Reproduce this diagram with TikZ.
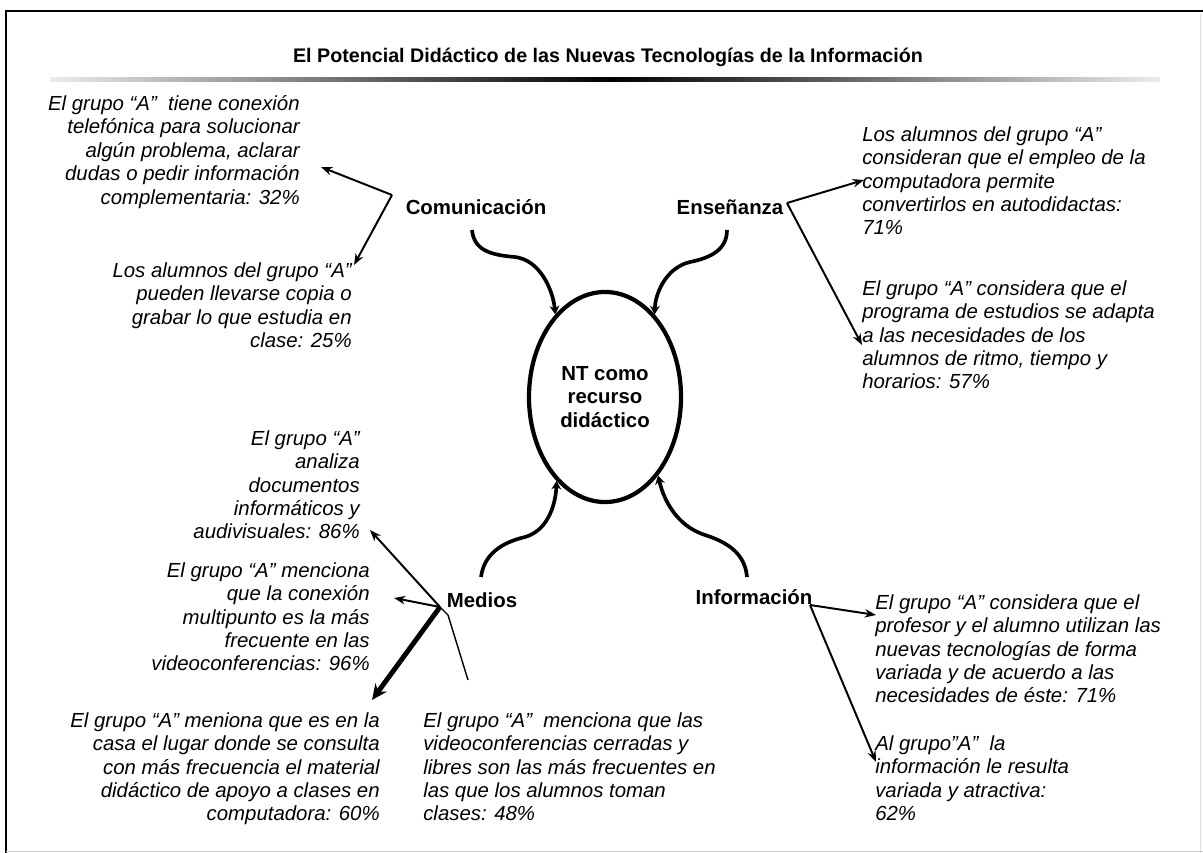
\documentclass[tikz,border=0pt]{standalone}
\usepackage{fontspec}
\setmainfont{Liberation Sans}
\usetikzlibrary{arrows.meta,shapes.geometric}

\tikzset{
  note/.style={font=\fontsize{14.5}{16.7}\selectfont\itshape, inner sep=0pt},
  noter/.style={note, align=right, anchor=north east},
  notel/.style={note, align=left, anchor=north west},
  topic/.style={font=\fontsize{14.5}{17}\selectfont\bfseries, inner sep=0pt},
  hub/.style={ellipse, draw, line width=3pt, minimum width=3.8cm, minimum height=5.25cm,
    inner sep=0pt, align=center, font=\fontsize{14.5}{17}\selectfont\bfseries},
  stem/.style={line width=2.6pt, -{Stealth[length=6pt,width=7pt]}},
  branch/.style={line width=1.4pt, -{Stealth[length=8pt,width=6pt]}},
  heavy/.style={line width=3.5pt, -{Stealth[length=11pt,width=10pt]}},
}

\begin{document}
\begin{tikzpicture}[x=0.025cm,y=-0.025cm]
\useasboundingbox (0,0) rectangle (1203,853);

% frame and title
\draw[line width=1.5pt] (6,853) -- (6,11) -- (1203,11);
\draw[gray!25] (1200,14) -- (1200,853);
\draw[gray!40] (6,851) -- (1203,851);
\node[font=\fontsize{14}{17}\selectfont\bfseries] (title) at (608,57)
  {El Potencial Didáctico de las Nuevas Tecnologías de la Información};
\shade[left color=gray!15, right color=black] (50,78) rectangle (610,82);
\shade[left color=black, right color=gray!15] (610,78) rectangle (1160,82);

% centre
\node[hub] (nt) at (605,397) {NT como\\recurso\\didáctico};

% Comunicacion
\node[topic] (comu) at (476,207) {Comunicación};
\coordinate (comu-root) at (472,230);
\draw[stem] (comu-root) .. controls (474,250) and (490,255) .. (515,257)
  .. controls (540,260) and (553,290) .. (nt.121);
\node[noter] (comu-a) at (300,95) {El grupo “A”\ \ tiene conexión\\telefónica para solucionar\\algún problema, aclarar\\dudas o pedir información\\complementaria: 32\%};
\node[noter] (comu-b) at (352,262) {Los alumnos del grupo “A”\\pueden llevarse copia o\\grabar lo que estudia en\\clase: 25\%};
\coordinate (comu-fork) at (392,195);
\coordinate (comu-tip1) at (321,167);
\coordinate (comu-tip2) at (354,265);
\draw[branch] (comu-fork) -- (comu-tip1);
\draw[branch] (comu-fork) -- (comu-tip2);

% Ensenanza
\node[topic] (ens) at (730,207) {Enseñanza};
\coordinate (ens-root) at (727,230);
\draw[stem] (ens-root) .. controls (727,250) and (710,258) .. (690,262)
  .. controls (665,268) and (655,295) .. (nt.59);
\node[notel] (ens-a) at (862,126) {Los alumnos del grupo “A”\\consideran que el empleo de la\\computadora permite\\convertirlos en autodidactas:\\71\%};
\node[notel] (ens-b) at (862,280) {El grupo “A” considera que el\\programa de estudios se adapta\\a las necesidades de los\\alumnos de ritmo, tiempo y\\horarios: 57\%};
\coordinate (ens-fork) at (787,203);
\coordinate (ens-tip1) at (864,180);
\coordinate (ens-tip2) at (862,345);
\draw[branch] (ens-fork) -- (ens-tip1);
\draw[branch] (ens-fork) -- (ens-tip2);

% Medios
\node[topic] (med) at (482,600) {Medios};
\coordinate (med-root) at (481,577);
\draw[stem] (med-root) .. controls (484,555) and (500,543) .. (525,537)
  .. controls (550,530) and (556,500) .. (nt.240);
\node[noter] (med-a) at (360,430) {El grupo “A”\\analiza\\documentos\\informáticos y\\audivisuales: 86\%};
\node[noter] (med-b) at (370,562) {El grupo “A” menciona\\que la conexión\\multipunto es la más\\frecuente en las\\videoconferencias: 96\%};
\node[noter] (med-c) at (380,712) {El grupo “A” meniona que es en la\\casa el lugar donde se consulta\\con más frecuencia el material\\didáctico de apoyo a clases en\\computadora: 60\%};
\node[notel] (med-d) at (423,712) {El grupo “A”\ \ menciona que las\\videoconferencias cerradas y\\libres son las más frecuentes en\\las que los alumnos toman\\clases: 48\%};
\coordinate (med-fork) at (440,607);
\coordinate (med-tip1) at (370,530);
\coordinate (med-tip2) at (394,598);
\coordinate (med-tip3) at (372,700);
\coordinate (med-bend) at (448,615);
\coordinate (med-end) at (468,680);
\draw[branch] (med-fork) -- (med-tip1);
\draw[branch] (med-fork) -- (med-tip2);
\draw[heavy] (med-fork) -- (med-tip3);
\draw[line width=1pt] (med-fork) -- (med-bend) -- (med-end);

% Informacion
\node[topic] (inf) at (754,597) {Información};
\coordinate (inf-root) at (747,577);
\draw[stem] (inf-root) .. controls (745,555) and (730,543) .. (705,535)
  .. controls (680,527) and (665,505) .. (nt.304);
\node[notel] (inf-a) at (875,594) {El grupo “A” considera que el\\profesor y el alumno utilizan las\\nuevas tecnologías de forma\\variada y de acuerdo a las\\necesidades de éste: 71\%};
\node[notel] (inf-b) at (875,735) {Al grupo”A”\ \ la\\información le resulta\\variada y atractiva:\\62\%};
\coordinate (inf-fork) at (810,605);
\coordinate (inf-tip1) at (876,615);
\coordinate (inf-tip2) at (876,762);
\draw[branch] (inf-fork) -- (inf-tip1);
\draw[branch] (inf-fork) -- (inf-tip2);
\end{tikzpicture}
\end{document}
